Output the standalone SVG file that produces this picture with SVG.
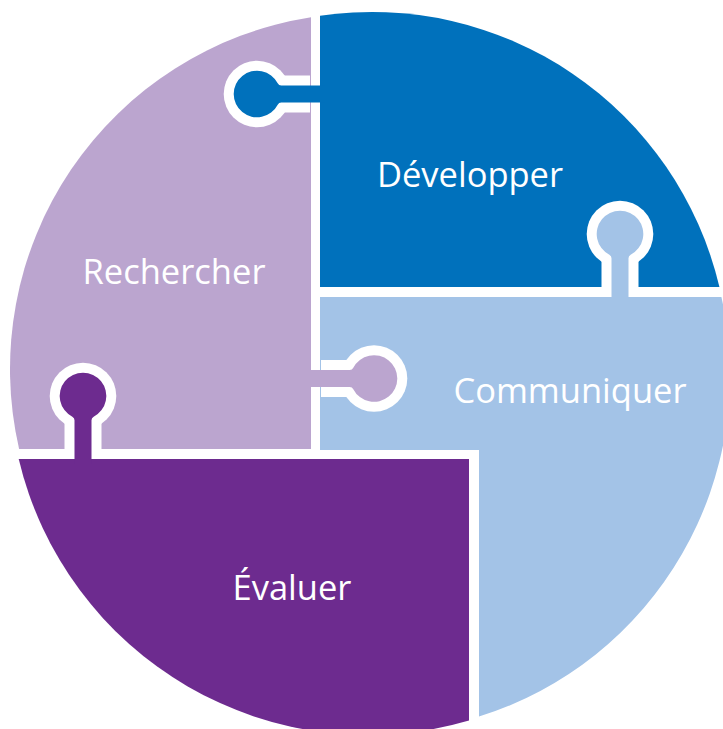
<svg xmlns="http://www.w3.org/2000/svg" xmlns:xlink="http://www.w3.org/1999/xlink" width="723" height="729" viewBox="0 0 723 729">
<style>
.lbl{font-family:"Open Sans","Liberation Sans",sans-serif;font-size:34.5px;fill:#fff;text-anchor:middle}
</style>
<defs>
<g id="knob">
<circle cx="0" cy="0" r="33.3" fill="#fff"/>
<rect x="-18.5" y="0" width="37" height="53" fill="#fff"/>
<path d="M-8.5,68 V24.27 A4,4 0 0 0 -10.67,20.71 A23.3,23.3 0 1 1 10.67,20.71 A4,4 0 0 0 8.5,24.27 V68 Z"/>
</g>
</defs>
<rect width="723" height="729" fill="#fff"/>
<g id="rechercher">
<path d="M311,17.27 V449 H19.1 A356,356 0 0 1 311,17.27 Z" fill="#BBA5CF"/>
<text class="lbl" x="174" y="284">Rechercher</text>
</g>
<g id="developper">
<path d="M320,15.81 A357,357 0 0 1 719.45,287 H320 Z" fill="#0071BC"/>
<text class="lbl" x="470" y="187">Développer</text>
</g>
<g id="communiquer">
<path d="M320,297 H721.4 A358,358 0 0 1 479,716.6 V450 H320 Z" fill="#A3C3E7"/>
<text class="lbl" x="570" y="403">Communiquer</text>
</g>
<g id="evaluer">
<path d="M18.7,459 H469 V720.5 A359,359 0 0 1 18.7,459 Z" fill="#6D2B8F"/>
<text class="lbl" x="292" y="600">Évaluer</text>
</g>
<g id="connectors">
<use xlink:href="#knob" href="#knob" transform="translate(257,94) rotate(-90)" fill="#0071BC"/>
<use xlink:href="#knob" href="#knob" transform="translate(620,234)" fill="#A3C3E7"/>
<use xlink:href="#knob" href="#knob" transform="translate(374,378.5) rotate(90)" fill="#BBA5CF"/>
<use xlink:href="#knob" href="#knob" transform="translate(83,396)" fill="#6D2B8F"/>
</g>
</svg>
